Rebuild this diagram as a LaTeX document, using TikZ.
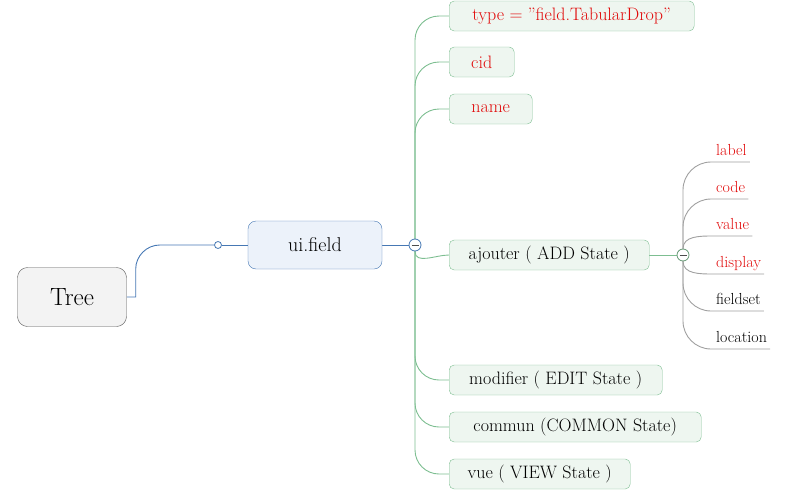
\documentclass[tikz,border=0pt]{standalone}
\usepackage[svgnames]{xcolor}
\usepackage{tikz}
\usetikzlibrary{positioning, calc, backgrounds}

\definecolor{StemBlue}{RGB}{70,120,180}
\definecolor{UiFill}{RGB}{236,242,250}
\definecolor{RootFill}{RGB}{243,243,243}
\definecolor{RootLine}{RGB}{85,85,85}
\definecolor{BranchGreen}{RGB}{125,190,145}
\definecolor{BoxFill}{RGB}{238,246,240}
\definecolor{LeafGray}{RGB}{160,160,160}
\definecolor{KeyRed}{RGB}{225,10,10}

\begin{document}
\begin{tikzpicture}[
    x=1pt, y=-1pt,
    root/.style={rectangle, rounded corners=10pt, draw=RootLine, fill=RootFill, minimum width=109pt, minimum height=59pt, font=\fontsize{25}{28}\selectfont},
    topic/.style={rectangle, rounded corners=8pt, draw=StemBlue, fill=UiFill, minimum width=134pt, minimum height=48pt, font=\fontsize{20}{22}\selectfont},
    child/.style={rectangle, rounded corners=5pt, draw=BranchGreen, fill=BoxFill, minimum height=30pt, anchor=west, font=\fontsize{18}{20}\selectfont},
    leaf/.style={inner xsep=3pt, inner ysep=6pt, text depth=0pt, anchor=south west, font=\fontsize{16}{18}\selectfont},
    stem/.style={StemBlue, line width=0.9pt},
    branch/.style={BranchGreen, line width=0.9pt},
    twig/.style={LeafGray, line width=0.9pt},
    knob/.style={circle, draw=StemBlue, fill=white, inner sep=0pt, minimum size=7pt, line width=0.8pt},
    fold/.style={circle, draw=#1, fill=white, inner sep=0pt, minimum size=12pt, line width=0.8pt,
                 path picture={\draw[black!70, line width=1pt] ($(path picture bounding box.center)+(-3.5,0)$) -- ++(7,0);}}
    ]
    \useasboundingbox (0,0) rectangle (789,498);

    % Nodes
    \node[root] (tree) at (72,297) {Tree};
    \node[topic] (ui) at (315,245) {ui.field};
    \node[knob] (knob) at (218,245) {};
    \node[fold=StemBlue] (c1) at (415,245) {};

    \node[child, minimum width=245pt, text=KeyRed] (type) at (449,16) {type = "field.TabularDrop"};
    \node[child, minimum width=65pt, text=KeyRed] (cid) at (449,62) {cid};
    \node[child, minimum width=83pt, text=KeyRed] (name) at (449,109) {name};
    \node[child, minimum width=200pt] (add) at (449,255) {ajouter ( ADD State )};
    \node[child, minimum width=213pt] (edit) at (449,380) {modifier ( EDIT State )};
    \node[child, minimum width=252pt] (common) at (449,427) {commun (COMMON State)};
    \node[child, minimum width=181pt] (view) at (449,474) {vue ( VIEW State )};

    \node[fold=BranchGreen!80!black] (c2) at (683,255) {};
    \node[leaf, text=KeyRed] (label) at (713,162) {label};
    \node[leaf, text=KeyRed] (code) at (713,199) {code};
    \node[leaf, text=KeyRed] (value) at (713,236) {value};
    \node[leaf, text=KeyRed] (display) at (713,274) {display};
    \node[leaf] (fieldset) at (713,311) {fieldset};
    \node[leaf] (location) at (713,349) {location};

    % Edges
    \begin{scope}[on background layer]
    \draw[stem] (tree.east) -- ++(9,0) -- ++(0,-28) .. controls +(0,-13) and +(-13,0) .. ++(24,-24) -- (knob);
    \draw[stem] (knob) -- (ui.west);
    \draw[stem] (ui.east) -- (c1);

    \foreach \n in {type, cid, name, edit, common, view}
        \draw[branch, rounded corners=24pt] (c1.center) |- (\n.west);
    \draw[branch] (c1) to[out=-90, in=180] (add.west);
    \draw[branch] (add.east) -- (c2);

    \foreach \n in {label, code, fieldset, location}
        \draw[twig, rounded corners=28pt] (c2.center) |- (\n.south east);
    \draw[twig] (c2) to[out=90, in=180] (value.south west) -- (value.south east);
    \draw[twig] (c2) to[out=-90, in=180] (display.south west) -- (display.south east);
    \end{scope}
\end{tikzpicture}
\end{document}
